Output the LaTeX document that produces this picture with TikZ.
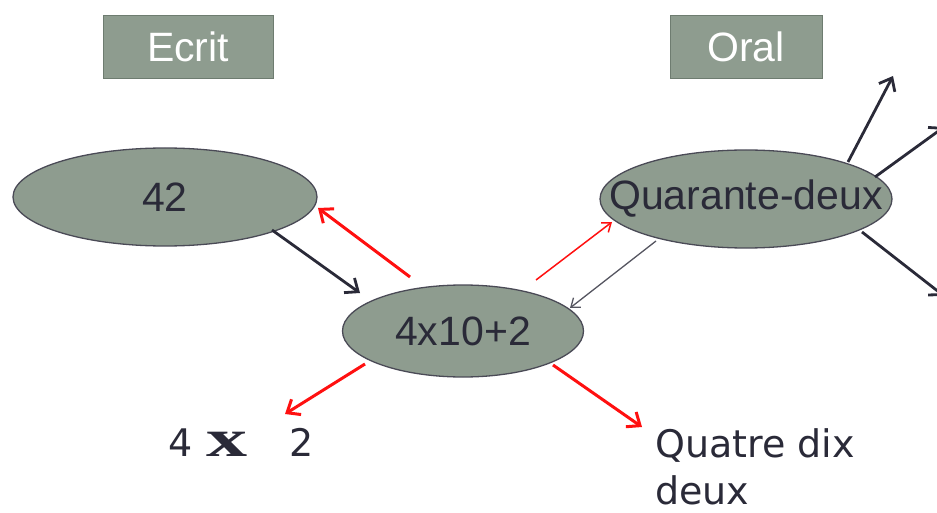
\documentclass[tikz,border=0pt]{standalone}
\usepackage{fontspec}
\setmainfont{Liberation Sans}
\newfontfamily\verd{DejaVu Sans}
\newfontfamily\serifb{Liberation Serif}
\usetikzlibrary{arrows.meta,shapes.geometric}
\definecolor{boxfill}{HTML}{8E9C8F}
\definecolor{boxline}{HTML}{6E7C70}
\definecolor{ink}{HTML}{2A2A38}
\definecolor{arrred}{HTML}{FF1010}
\tikzset{
  x=1pt,y=-1pt,
  label box/.style={draw=boxline,fill=boxfill,line width=1pt,minimum width=#1,minimum height=63pt,inner sep=0pt,text=white,font=\fontsize{41}{46}\selectfont},
  oval/.style={ellipse,draw=ink!85,fill=boxfill,line width=1.3pt,inner sep=0pt,text=ink,font=\fontsize{41}{46}\selectfont},
  darkarr/.style={draw=ink,line width=2.8pt,-{Straight Barb[length=11pt,width=18pt,line width=2.8pt]}},
  thindark/.style={draw=ink!80,line width=1.3pt,-{Straight Barb[length=8pt,width=12pt,line width=1.3pt]}},
  redarr/.style={draw=arrred,line width=3pt,-{Straight Barb[length=11pt,width=18pt,line width=3pt]}},
  thinred/.style={draw=arrred,line width=1.5pt,-{Straight Barb[length=8pt,width=12pt,line width=1.5pt]}},
  plain/.style={text=ink,inner sep=0pt,anchor=base west,font=\verd\fontsize{38}{46}\selectfont},
}
\begin{document}
\begin{tikzpicture}
\path[use as bounding box] (0,0) rectangle (937,513);
\clip (0,0) rectangle (937,513);
\node[label box=170pt] (ecrit) at (188,47) {Ecrit};
\node[label box=152pt] (oral) at (746,47) {Oral};
\node[oval,minimum width=304pt,minimum height=98pt] (n42) at (165,197) {42};
\node[oval,minimum width=292pt,minimum height=98pt,inner xsep=-45pt] (qd) at (746,199) {Quarante-deux};
\node[oval,minimum width=241pt,minimum height=92pt] (calc) at (463,331) {4x10+2};
\coordinate (a1s) at (272,230); \coordinate (a1e) at (360,293);
\draw[darkarr] (a1s) -- (a1e);
\coordinate (a2s) at (410,277); \coordinate (a2e) at (318,208);
\draw[redarr] (a2s) -- (a2e);
\coordinate (a3s) at (536,280); \coordinate (a3e) at (612,222);
\draw[thinred] (a3s) -- (a3e);
\coordinate (a4s) at (656,241); \coordinate (a4e) at (570,308);
\draw[thindark] (a4s) -- (a4e);
\coordinate (b1s) at (848,162); \coordinate (b1e) at (893,76);
\draw[darkarr] (b1s) -- (b1e);
\coordinate (b2s) at (875,177); \coordinate (b2e) at (944,127);
\draw[darkarr] (b2s) -- (b2e);
\coordinate (b3s) at (862,232); \coordinate (b3e) at (944,296);
\draw[darkarr] (b3s) -- (b3e);
\coordinate (r1s) at (365,364); \coordinate (r1e) at (285,414);
\draw[redarr] (r1s) -- (r1e);
\coordinate (r2s) at (553,365); \coordinate (r2e) at (642,427);
\draw[redarr] (r2s) -- (r2e);
\node[plain] (four) at (168,456) {4};
\node[plain,font=\serifb\bfseries\fontsize{53}{56}\selectfont,xscale=1.55] (times) at (206,456) {x};
\node[plain] (two) at (289,456) {2};
\node[plain,align=left,font=\verd\fontsize{38}{47}\selectfont] (qdd) at (655,504) {Quatre dix\\deux};
\end{tikzpicture}
\end{document}
